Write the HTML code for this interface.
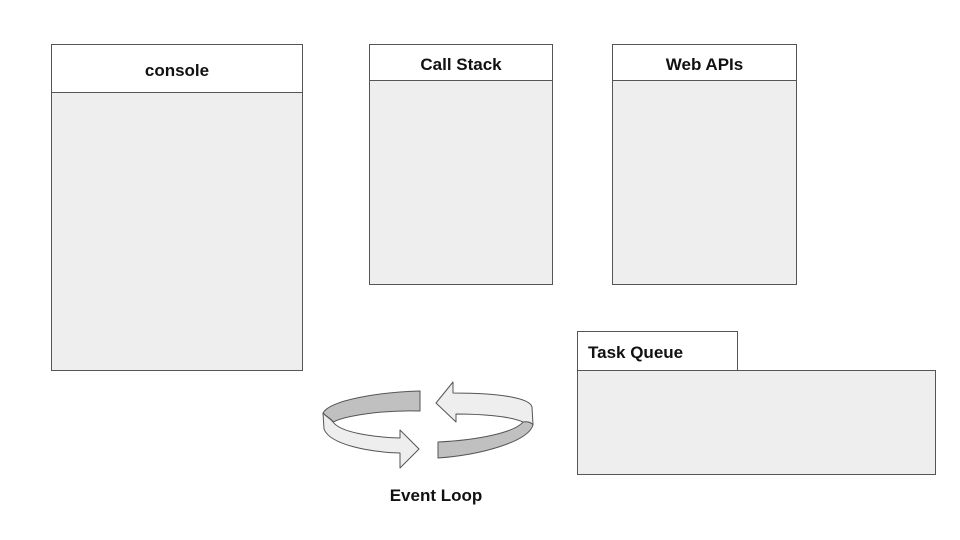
<!DOCTYPE html>
<html><head><meta charset="utf-8"><style>
body{margin:0;width:960px;height:540px;background:#fff;position:relative;overflow:hidden;font-family:"Liberation Sans",Arial,sans-serif;}
.b{position:absolute;box-sizing:border-box;border:1px solid #555;}
.h{background:#fff;font-weight:bold;font-size:17px;color:#111;display:flex;align-items:center;justify-content:center;padding-top:4px;}
.g{background:#eeeeee;}
</style></head><body>
<div class="b h" style="left:51px;top:44px;width:252px;height:49px;">console</div>
<div class="b g" style="left:51px;top:92px;width:252px;height:279px;"></div>
<div class="b h" style="left:369px;top:44px;width:184px;height:37px;">Call Stack</div>
<div class="b g" style="left:369px;top:80px;width:184px;height:205px;"></div>
<div class="b h" style="left:612px;top:44px;width:185px;height:37px;">Web APIs</div>
<div class="b g" style="left:612px;top:80px;width:185px;height:205px;"></div>
<div class="b h" style="left:577px;top:331px;width:161px;height:40px;justify-content:flex-start;padding-left:10px;">Task Queue</div>
<div class="b g" style="left:577px;top:370px;width:359px;height:105px;"></div>
<svg width="960" height="540" style="position:absolute;left:0;top:0" >
<g stroke="#555" stroke-width="1" stroke-linejoin="round">
<path d="M420 391 C380 392 330 400 323 413 C328 418 333 420 333 422 C350 414 390 410 420 411 Z" fill="#c0c0c0"/>
<path d="M323 413 L324 429 C330 445 370 452 400 453 L400 468 L419 449 L400 430 L400 438 C370 437 340 432 333 422 C330 418 325 416 323 413 Z" fill="#eeeeee"/>
<path d="M436 403 L453 382 L453 393 C500 393 530 398 532 407 L533 425 C530 423 526 422 523 422 C510 416 480 414 456 414 L456 422 Z" fill="#eeeeee"/>
<path d="M438 442 C480 440 515 432 523 422 C528 421 532 423 533 425 C528 442 480 455 438 458 Z" fill="#c0c0c0"/>
</g>
<text x="436" y="501" font-family="Liberation Sans, Arial, sans-serif" font-weight="bold" font-size="17" text-anchor="middle" fill="#111">Event Loop</text>
</svg>
</body></html>
